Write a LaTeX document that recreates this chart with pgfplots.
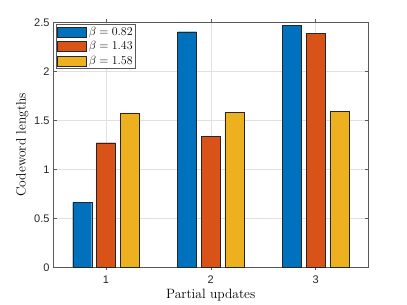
\documentclass[border=0pt]{standalone}
\usepackage{fontspec}
\usepackage{pgfplots}
\pgfplotsset{compat=1.18}
\newfontfamily\helv{Liberation Sans}
\definecolor{mblue}{rgb}{0,0.447,0.741}
\definecolor{morange}{rgb}{0.850,0.325,0.098}
\definecolor{myellow}{rgb}{0.929,0.694,0.125}
\begin{document}
\begin{tikzpicture}
\path[use as bounding box] (0,0) rectangle (407pt,305pt);
\begin{axis}[
  at={(53.5pt,37.7pt)}, anchor=south west,
  scale only axis, width=314.5pt, height=245pt,
  xmin=0.5, xmax=3.5, ymin=0, ymax=2.5,
  xtick={1,2,3}, ytick={0,0.5,1,1.5,2,2.5},
  xmajorgrids, ymajorgrids,
  grid style={draw=black!12, line width=0.4pt},
  axis line style={draw=black!65, line width=0.5pt},
  every tick/.style={draw=black!65, line width=0.5pt},
  tick align=inside, major tick length=3.2pt,
  /pgf/number format/assume math mode=true,
  tick label style={font=\helv\fontsize{11}{13}\selectfont, text=black!85},
  yticklabel style={xshift=-0.5pt},
  xticklabel style={yshift=-2pt},
  xlabel={Partial updates}, ylabel={Codeword lengths},
  label style={font=\fontsize{13.5}{15}\selectfont},
  xlabel style={yshift=2pt},
  ylabel style={yshift=-1pt},
  ybar, bar width=19pt,
  legend style={at={(0,1)}, anchor=north west, xshift=2.5pt, yshift=-1.5pt,
    draw=black!65, line width=0.5pt, inner sep=1pt, row sep=0.6pt,
    font=\fontsize{12.5}{13.5}\selectfont, cells={anchor=west}},
  legend image code/.code={\draw[#1, line width=0.5pt] (0pt,-5pt) rectangle (29pt,5pt);},
  legend cell align=left,
]
\addplot[fill=mblue, draw=black!85, bar shift=-23.7pt] coordinates {(1,0.663) (2,2.404) (3,2.469)};
\addplot[fill=morange, draw=black!85, bar shift=0pt] coordinates {(1,1.271) (2,1.333) (3,2.388)};
\addplot[fill=myellow, draw=black!85, bar shift=23.7pt] coordinates {(1,1.576) (2,1.582) (3,1.592)};
\legend{$\beta=0.82$, $\beta=1.43$, $\beta=1.58$}
\end{axis}
\end{tikzpicture}
\end{document}
